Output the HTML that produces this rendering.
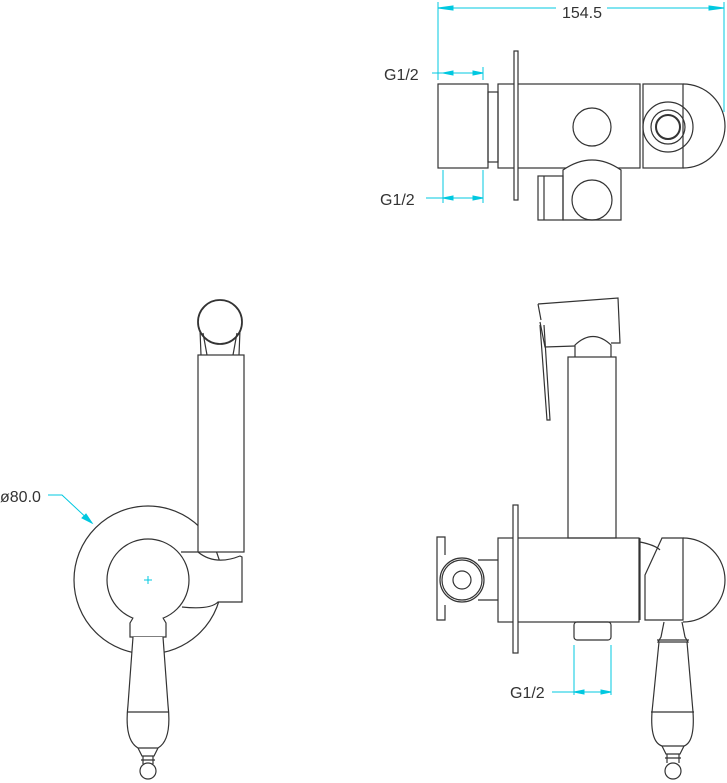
<!DOCTYPE html>
<html><head><style>html,body{margin:0;padding:0;background:#fff}svg{display:block}</style></head>
<body>
<svg width="727" height="783" viewBox="0 0 727 783" xmlns="http://www.w3.org/2000/svg" font-family="Liberation Sans, sans-serif">
<g fill="none" stroke="#333" stroke-width="1.2">
<!-- TOP VIEW -->
<rect x="438" y="84" width="50" height="84"/>
<rect x="488" y="92" width="10" height="70"/>
<rect x="498" y="84" width="142" height="84"/>
<rect x="514" y="51" width="4" height="149" fill="#fff"/>
<circle cx="592" cy="127" r="19"/>
<rect x="643" y="84" width="40" height="84"/>
<path d="M683 84 A42 42 0 0 1 683 168"/>
<circle cx="668" cy="127" r="25"/>
<circle cx="668" cy="127" r="17"/>
<circle cx="668" cy="127" r="12" stroke-width="2"/>
<path d="M563 220 L563 170 Q592 150 621 170 L621 220 Z" fill="#fff"/>
<circle cx="592" cy="200" r="20"/>
<rect x="538" y="176" width="25" height="44"/>
<line x1="544" y1="176" x2="544" y2="220"/>
<!-- LEFT VIEW -->
<circle cx="220" cy="322" r="22" stroke-width="1.8"/>
<path d="M203 333 L207 355 M237 333 L233 355 M200 330 L201 355 M240 330 L239 355"/>
<circle cx="148" cy="580" r="74"/>
<rect x="198" y="355" width="46" height="197" fill="#fff"/>
<path d="M181 552 L198 552 Q215 566 240 556 L242 557 L242 602 L218 602 Q210 610 182 607 Z" fill="#fff" stroke="none"/>
<path d="M181 552 L198 552 Q215 566 240 556 L242 557 L242 602 L218 602 Q210 610 182 607"/>
<circle cx="148" cy="580" r="41" fill="#fff"/>
<path d="M133 618 L130 623 L130 637 L166 637 L166 623 L163 618" fill="#fff"/>
<path d="M133 637 L128 705 Q124 740 138 748 L158 748 Q172 740 168 705 L163 637" fill="#fff"/>
<line x1="127" y1="712" x2="169" y2="712"/>
<path d="M138 748 L142 756 L154 756 L158 748 M141 760 L155 760 M143 756 L143 764 M153 756 L153 764"/>
<circle cx="148" cy="771" r="8"/>
<!-- RIGHT VIEW -->
<rect x="498" y="538" width="141" height="84"/>
<rect x="513" y="505" width="5" height="148" fill="#fff"/>
<path d="M445 555 L445 537 L437 537 L437 620 L445 620 L445 605"/>
<circle cx="462" cy="580" r="22" fill="#fff"/>
<circle cx="462" cy="580" r="20"/>
<circle cx="462" cy="580" r="9"/>
<path d="M478 560 L498 560 M478 600 L498 600"/>
<rect x="568" y="357" width="48" height="181"/>
<path d="M575 357 L575 345 Q593 328 611 345 L611 357"/>
<path d="M538 304 L618 298 L620 343 L611 343 M575 346 L545 347 L540 322 M538 304 L541 320"/>
<path d="M540 325 L547 420 L550 420 L544 325"/>
<path d="M640 542 Q655 545 660 550 M640 620 L640 538"/>
<path d="M662 538 L645 575 L645 620 L683 620 L683 538 Z"/>
<path d="M683 538 A42 42 0 0 1 683 622"/>
<rect x="574" y="622" width="37" height="18" rx="3"/>
<path d="M664 622 L661 637 L658 642 L688 642 L685 637 L682 622"/>
<line x1="657" y1="640" x2="689" y2="640"/>
<path d="M659 642 L652 712 Q650 742 662 746 L684 746 Q695 742 693 712 L687 642"/>
<line x1="651" y1="712" x2="694" y2="712"/>
<path d="M662 746 L666 754 L680 754 L684 746 M665 758 L681 758 M667 754 L667 763 M679 754 L679 763"/>
<circle cx="673" cy="771" r="8"/>
</g>
<!-- DIMENSIONS -->
<g stroke="#00c8e0" stroke-width="1" fill="#00c8e0">
<line x1="438" y1="2" x2="438" y2="80"/>
<line x1="724" y1="2" x2="724" y2="112"/>
<line x1="438" y1="8" x2="556" y2="8"/>
<line x1="607" y1="8" x2="724" y2="8"/>
<path d="M438 8 L453 6 L453 10 Z M724 8 L709 6 L709 10 Z"/>
<line x1="483" y1="67" x2="483" y2="80"/>
<line x1="432" y1="73" x2="483" y2="73"/>
<path d="M443 73 L453 71 L453 75 Z M483 73 L473 71 L473 75 Z"/>
<line x1="443" y1="170" x2="443" y2="203"/>
<line x1="483" y1="170" x2="483" y2="203"/>
<line x1="426" y1="198" x2="483" y2="198"/>
<path d="M443 198 L453 196 L453 200 Z M483 198 L473 196 L473 200 Z"/>
<path d="M48 495 L62 495 L92 523" fill="none"/>
<path d="M92 523 L82 518 L86 514 Z"/>
<line x1="144" y1="580" x2="152" y2="580"/>
<line x1="148" y1="576" x2="148" y2="584"/>
<line x1="574" y1="645" x2="574" y2="695"/>
<line x1="611" y1="645" x2="611" y2="695"/>
<line x1="552" y1="692" x2="611" y2="692"/>
<path d="M574 692 L584 690 L584 694 Z M611 692 L601 690 L601 694 Z"/>
</g>
<g fill="#333" font-size="16">
<text x="582" y="18" text-anchor="middle">154.5</text>
<text x="384" y="80">G1/2</text>
<text x="380" y="205">G1/2</text>
<text x="0" y="502">ø80.0</text>
<text x="510" y="698">G1/2</text>
</g>
</svg>
</body></html>
